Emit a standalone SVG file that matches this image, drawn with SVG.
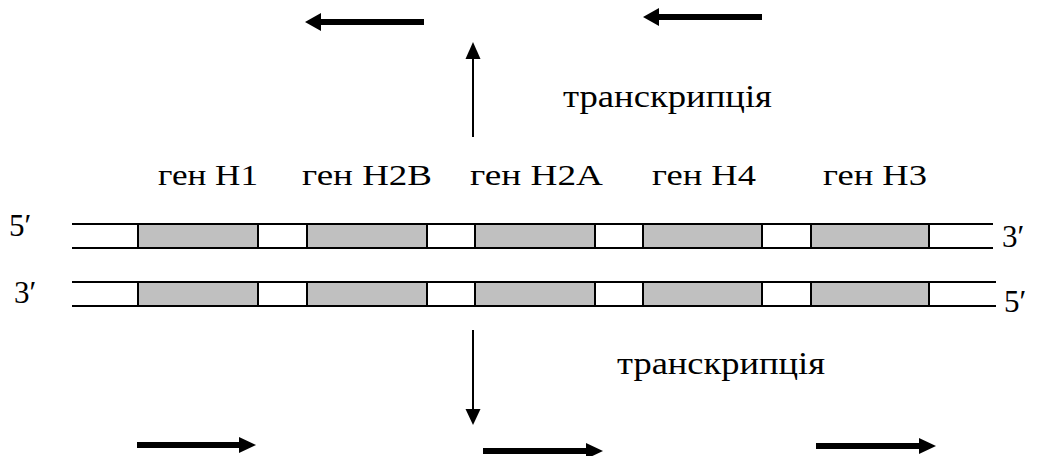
<svg xmlns="http://www.w3.org/2000/svg" width="1043" height="456" viewBox="0 0 1043 456">
  <style>
    .txt { font-family: 'Liberation Serif', 'Times New Roman', 'DejaVu Serif', serif; fill: #000; }
    .gene-label { font-size: 29px; }
    .end-label { font-size: 31px; }
    .caption { font-size: 31px; }
    .strand { stroke: #000; stroke-width: 2; fill: none; }
    .gene { fill: #c0c0c0; stroke: #000; stroke-width: 2; }
    .thin { stroke: #000; stroke-width: 2; fill: none; }
    .head { fill: #000; stroke: none; }
    .rna { fill: #000; stroke: none; }
  </style>

  <!-- upper DNA strand (5' -> 3') -->
  <g id="strand-top">
    <line class="strand" x1="72" y1="224" x2="993" y2="224"/>
    <line class="strand" x1="72" y1="248" x2="993" y2="248"/>
    <rect class="gene" x="138" y="224" width="120" height="24"/>
    <rect class="gene" x="307" y="224" width="120" height="24"/>
    <rect class="gene" x="475" y="224" width="120" height="24"/>
    <rect class="gene" x="643" y="224" width="119" height="24"/>
    <rect class="gene" x="811" y="224" width="118" height="24"/>
    <text class="txt end-label" x="9" y="236">5′</text>
    <text class="txt end-label" x="1002" y="247">3′</text>
  </g>

  <!-- lower DNA strand (3' -> 5') -->
  <g id="strand-bottom">
    <line class="strand" x1="72" y1="282" x2="996" y2="282"/>
    <line class="strand" x1="72" y1="306" x2="996" y2="306"/>
    <rect class="gene" x="138" y="282" width="120" height="24"/>
    <rect class="gene" x="307" y="282" width="120" height="24"/>
    <rect class="gene" x="475" y="282" width="120" height="24"/>
    <rect class="gene" x="643" y="282" width="119" height="24"/>
    <rect class="gene" x="811" y="282" width="118" height="24"/>
    <text class="txt end-label" x="14" y="303">3′</text>
    <text class="txt end-label" x="1004" y="312">5′</text>
  </g>

  <!-- gene names -->
  <g id="gene-H1"><text class="txt gene-label" x="158" y="185" textLength="100" lengthAdjust="spacingAndGlyphs">ген H1</text></g>
  <g id="gene-H2B"><text class="txt gene-label" x="302" y="185" textLength="130" lengthAdjust="spacingAndGlyphs">ген H2B</text></g>
  <g id="gene-H2A"><text class="txt gene-label" x="470" y="185" textLength="133" lengthAdjust="spacingAndGlyphs">ген H2A</text></g>
  <g id="gene-H4"><text class="txt gene-label" x="652" y="185" textLength="104" lengthAdjust="spacingAndGlyphs">ген H4</text></g>
  <g id="gene-H3"><text class="txt gene-label" x="823" y="185" textLength="104" lengthAdjust="spacingAndGlyphs">ген H3</text></g>

  <!-- transcription captions -->
  <g id="caption-top"><text class="txt caption" x="563" y="107" textLength="209" lengthAdjust="spacingAndGlyphs">транскрипція</text></g>
  <g id="caption-bottom"><text class="txt caption" x="617" y="374" textLength="208" lengthAdjust="spacingAndGlyphs">транскрипція</text></g>

  <!-- transcription direction arrows and RNA products -->
  <g id="connectors">
    <!-- upward transcription -->
    <line class="thin" x1="473" y1="137" x2="473" y2="56"/>
    <polygon class="head" points="473,42 465.5,59 480.5,59"/>
    <!-- downward transcription -->
    <line class="thin" x1="473" y1="330" x2="473" y2="412"/>
    <polygon class="head" points="473,425 465.5,409 480.5,409"/>

    <!-- transcripts read leftwards -->
    <path class="rna" d="M424,19 L321,19 L321,13 L305,22 L321,31 L321,25 L424,25 Z"/>
    <path class="rna" d="M762,14 L659,14 L659,8 L643,17 L659,26 L659,20 L762,20 Z"/>

    <!-- transcripts read rightwards -->
    <path class="rna" d="M137,442 L239,442 L239,437 L256,445 L239,453 L239,448 L137,448 Z"/>
    <path class="rna" d="M483,448 L586,448 L586,443 L603,451 L586,459 L586,454 L483,454 Z"/>
    <path class="rna" d="M816,443 L919,443 L919,438 L936,446 L919,454 L919,449 L816,449 Z"/>
  </g>
</svg>
